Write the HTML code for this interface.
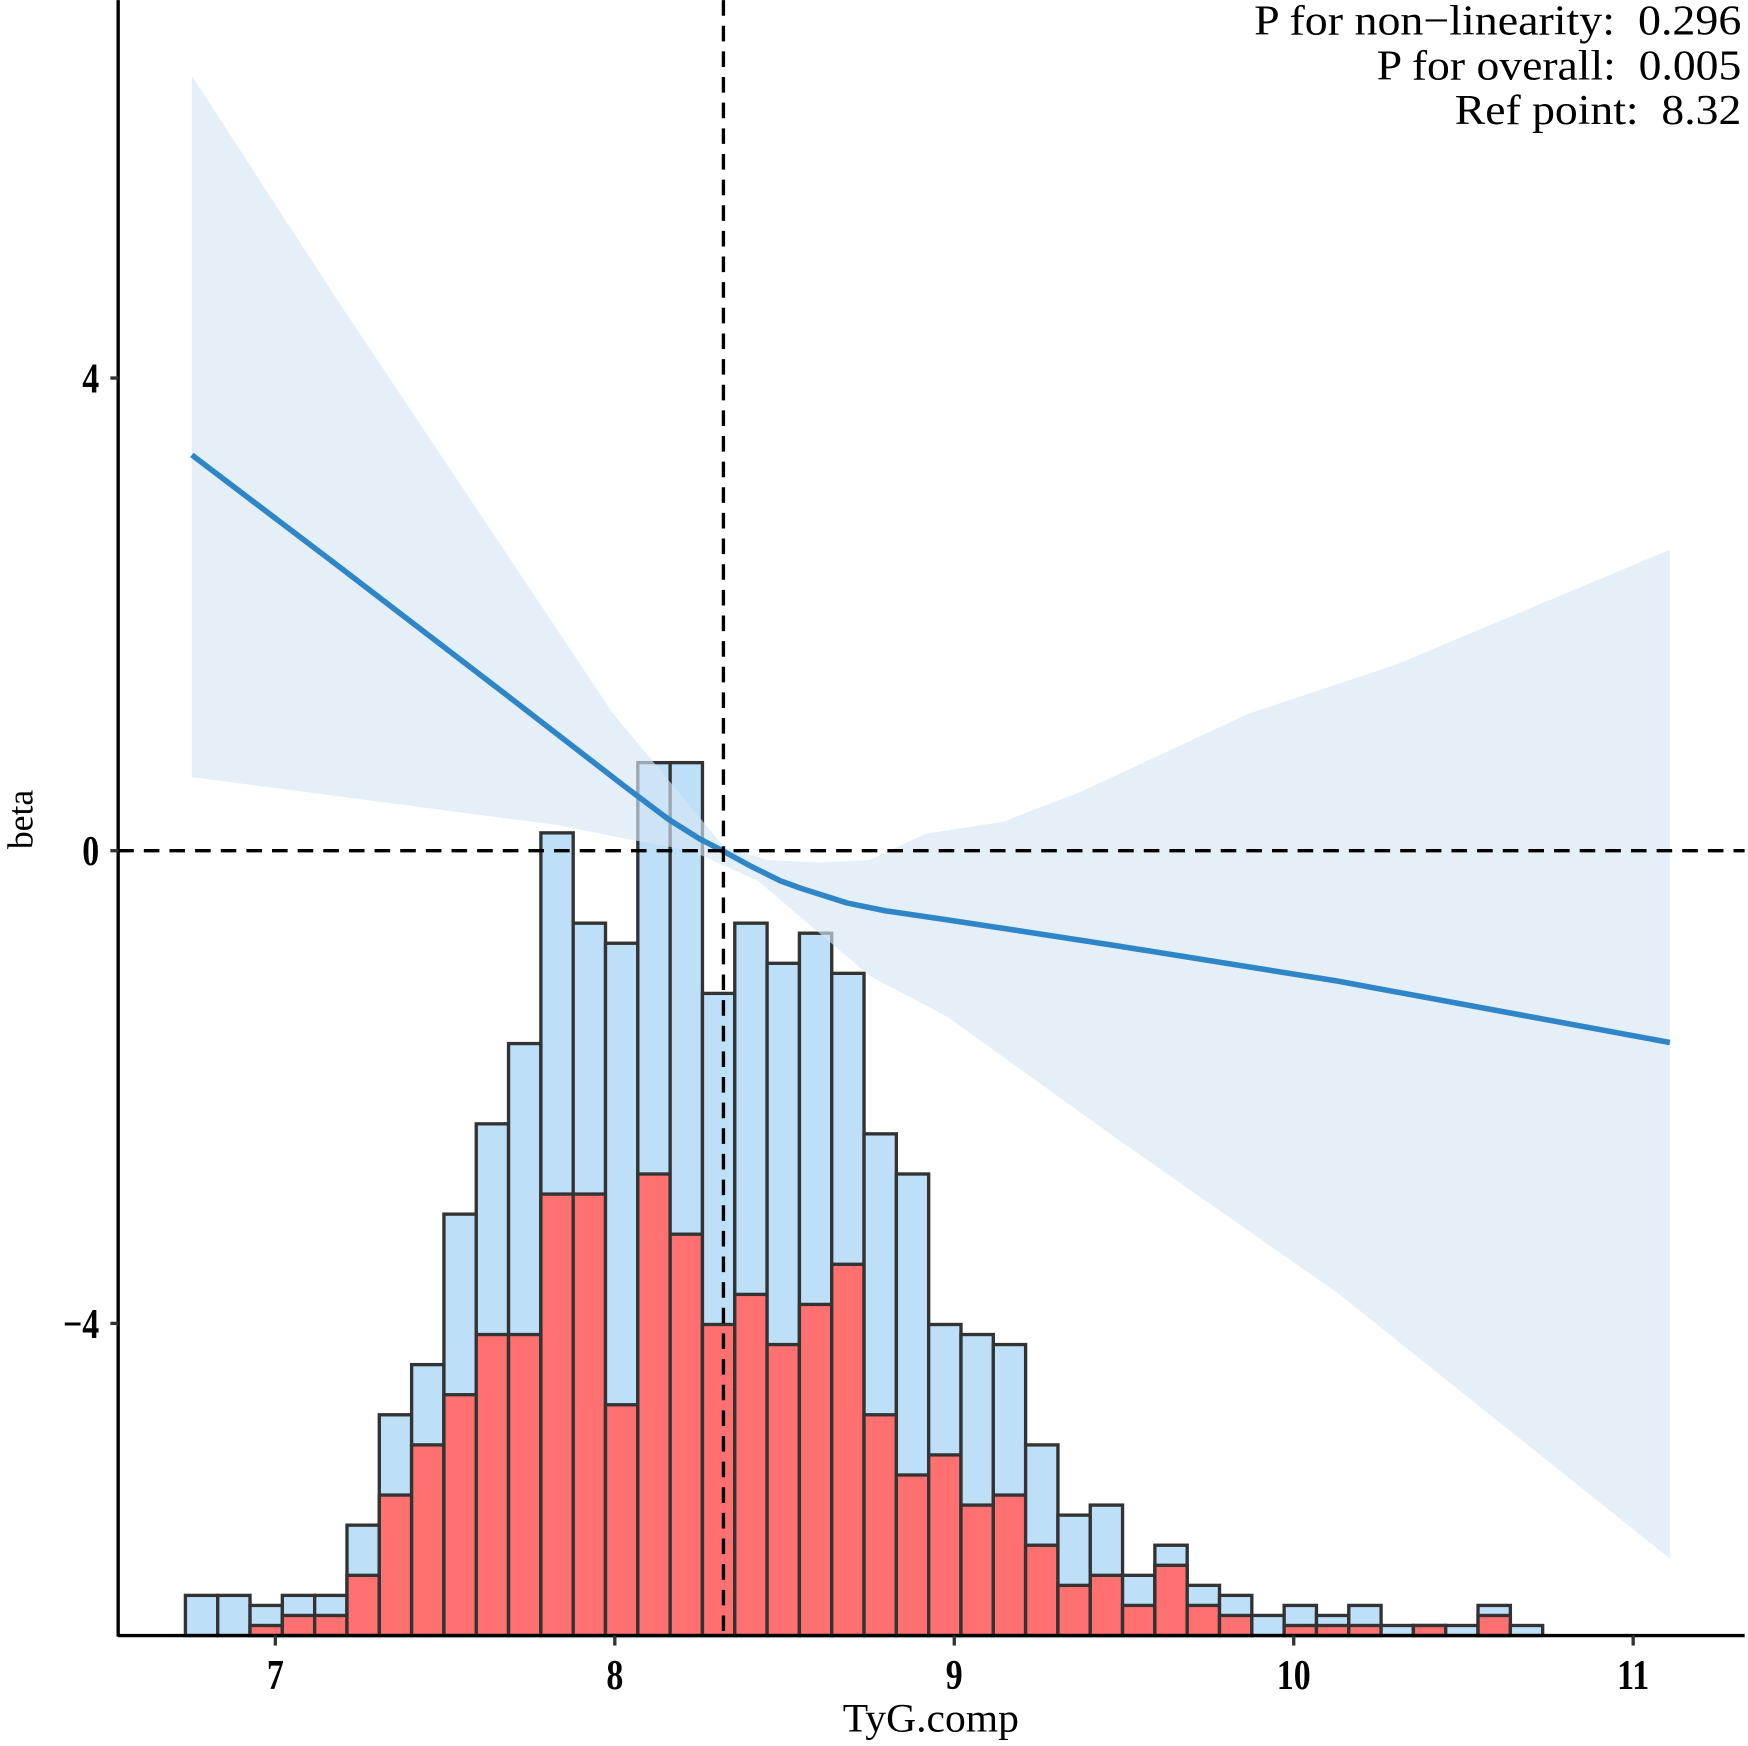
<!DOCTYPE html>
<html><head><meta charset="utf-8"><style>
html,body{margin:0;padding:0;background:#fff}
svg{display:block}
text{font-family:"Liberation Serif",serif;white-space:pre}
</style></head><body>
<svg id="chart" width="1748" height="1746" viewBox="0 0 1568 1566" xmlns="http://www.w3.org/2000/svg">
<g id="bars"></g>
<path id="ribbon" fill="#d6e7f5" fill-opacity="0.65"/>
<path id="curve" fill="none" stroke="#2e86c9" stroke-width="5" stroke-linejoin="round"/>
<g id="axes"></g>
<text x="1125" y="31" font-size="38" textLength="437" lengthAdjust="spacingAndGlyphs">P for non−linearity:  0.296</text>
<text x="1235" y="71" font-size="38" textLength="327" lengthAdjust="spacingAndGlyphs">P for overall:  0.005</text>
<text x="1305" y="111" font-size="38" textLength="257" lengthAdjust="spacingAndGlyphs">Ref point:  8.32</text>
<text x="756" y="1553" font-size="36" textLength="158" lengthAdjust="spacingAndGlyphs">TyG.comp</text>
<text transform="translate(29,735) rotate(-90)" text-anchor="middle" font-size="32">beta</text>
</svg>
<script>
const binStart = 6.735, binWidth = 0.0952;
const totalCounts = [4,4,3,4,4,11,22,27,42,51,59,80,71,69,87,87,64,71,67,70,66,50,46,31,30,29,19,12,13,6,9,5,4,2,3,2,3,1,1,1,3,1];
const redCounts   = [0,0,1,2,2,6,14,19,24,30,30,44,44,23,46,40,31,34,29,33,37,22,16,18,13,14,9,5,6,3,7,3,2,0,1,1,1,0,1,0,2,0];
const curveX = [6.754,7.174,7.667,8.028,8.159,8.25,8.317,8.4,8.488,8.55,8.685,8.8,8.980,9.473,10.130,11.108];
const curveY = [3.349,2.434,1.349,0.547,0.264,0.1,0,-0.13,-0.255,-0.32,-0.443,-0.51,-0.585,-0.802,-1.104,-1.623];
const upperX = [6.754,7.174,7.667,7.995,8.159,8.323,8.45,8.6,8.75,8.915,9.144,9.374,9.867,10.294,11.108];
const upperY = [6.557,4.698,2.575,1.160,0.594,0.028,-0.08,-0.1,-0.08,0.142,0.245,0.5,1.16,1.566,2.547];
const lowerX = [6.754,7.831,8.028,8.225,8.422,8.750,8.980,9.473,10.130,11.108];
const lowerY = [0.623,0.217,0.104,0,-0.255,-1.057,-1.406,-2.425,-3.745,-5.99];
const xTicks = [7,8,9,10,11];
const yTicks = [4,0,-4];
const refX = 8.32;

const NS="http://www.w3.org/2000/svg";
const xs = v => 247 + (v-7)*304.5;
const ys = v => 763 - v*106;
const baseY = 1467, countPx = 9;
const cy = c => baseY - c*countPx;
function mk(tag, attrs, parent){const e=document.createElementNS(NS,tag);for(const k in attrs)e.setAttribute(k,attrs[k]);parent.appendChild(e);return e;}
const bars=document.getElementById('bars');
totalCounts.forEach((c,i)=>{
  const x0=xs(binStart+i*binWidth), x1=xs(binStart+(i+1)*binWidth);
  const b=mk('rect',{x:x0,y:cy(c),width:x1-x0,height:baseY-cy(c),fill:'#bde0f8',stroke:'#333',"stroke-width":3},bars);
  
  
  const r=redCounts[i];
  if(r>0){
    const rr=mk('rect',{x:x0,y:cy(r),width:x1-x0,height:baseY-cy(r),fill:'#ff7070',stroke:'#333',"stroke-width":3},bars);
    
    
  }
});
let d='';
upperX.forEach((x,i)=>{d+=(i?'L':'M')+xs(x)+','+ys(upperY[i]);});
for(let i=lowerX.length-1;i>=0;i--) d+='L'+xs(lowerX[i])+','+ys(lowerY[i]);
document.getElementById('ribbon').setAttribute('d',d+'Z');
let c='';
curveX.forEach((x,i)=>{c+=(i?'L':'M')+xs(x)+','+ys(curveY[i]);});
document.getElementById('curve').setAttribute('d',c);
const ax=document.getElementById('axes');
const hl=mk('line',{x1:106,x2:1565,y1:ys(0),y2:ys(0),stroke:'#000',"stroke-width":3,"stroke-dasharray":"14 9"},ax);


const vl=mk('line',{x1:xs(refX),x2:xs(refX),y1:0,y2:baseY,stroke:'#000',"stroke-width":3,"stroke-dasharray":"14 9"},ax);


const yl=mk('line',{x1:106,x2:106,y1:0,y2:1468,stroke:'#000',"stroke-width":3},ax);


const xl=mk('line',{x1:106,x2:1565,y1:1467,y2:1467,stroke:'#000',"stroke-width":3},ax);


xTicks.forEach(t=>{
  mk('line',{x1:xs(t),x2:xs(t),y1:1467,y2:1476,stroke:'#333',"stroke-width":3},ax);
  const tx=mk('text',{transform:'translate('+xs(t)+',1515) scale(0.8,1)',"text-anchor":"middle","font-size":38,"font-weight":"bold"},ax);
  tx.textContent=t;
  
  
});
yTicks.forEach(t=>{
  mk('line',{x1:99,x2:106,y1:ys(t),y2:ys(t),stroke:'#333',"stroke-width":3},ax);
  const tx=mk('text',{transform:'translate(89,'+(ys(t)+13)+') scale(0.8,1)',"text-anchor":"end","font-size":38,"font-weight":"bold"},ax);
  tx.textContent=t<0?'−'+(-t):t;
  
  
});
</script>
</body></html>
